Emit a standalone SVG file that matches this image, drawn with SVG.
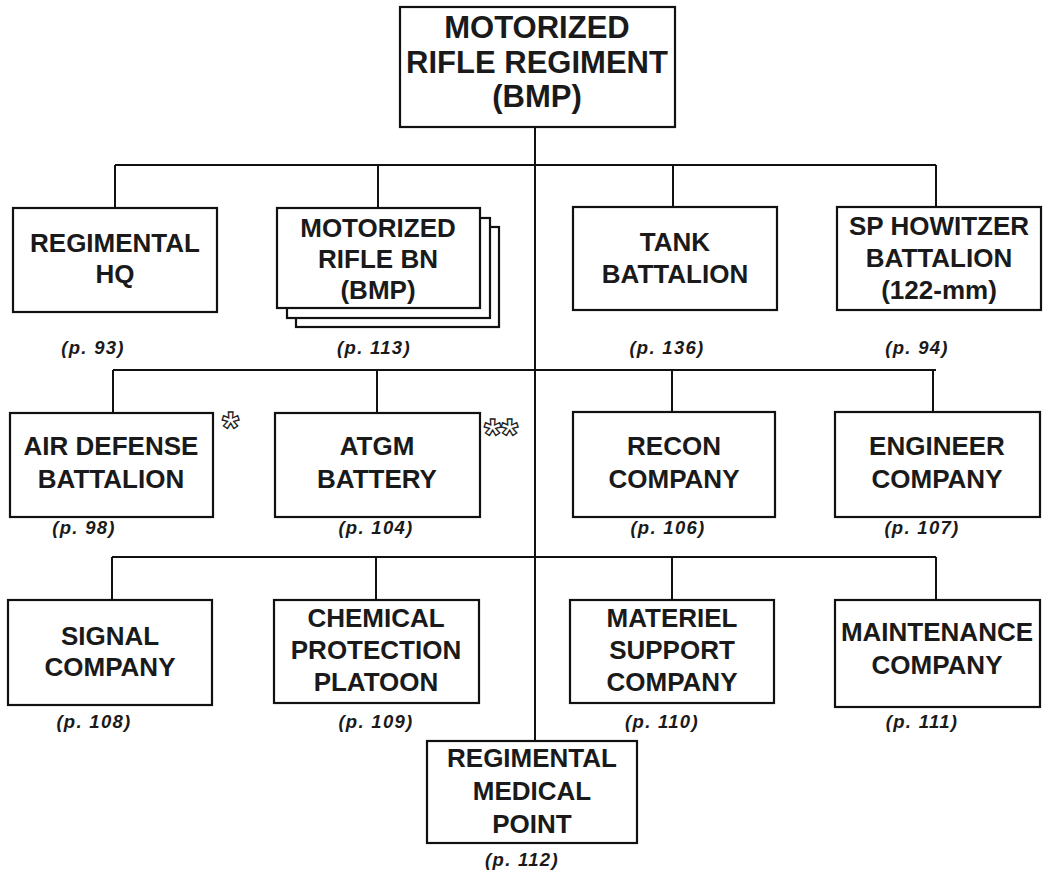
<svg xmlns="http://www.w3.org/2000/svg" width="1061" height="877" viewBox="0 0 1061 877">
<style>
.box{fill:#fff;stroke:#111;stroke-width:2.2}
.t{font-family:"Liberation Sans",Arial,sans-serif;font-weight:bold;font-size:26px;fill:#1a1a1a;text-anchor:middle}
.big{font-size:31px}
.p{font-family:"Liberation Sans",Arial,sans-serif;font-weight:bold;font-style:italic;font-size:18.5px;letter-spacing:1.3px;fill:#1a1a1a;text-anchor:middle}
.ast{font-family:"Liberation Sans",Arial,sans-serif;font-weight:bold;font-size:44px;fill:#fff;stroke:#222;stroke-width:1.3}
.c{fill:none;stroke:#111;stroke-width:2}
</style>
<rect width="1061" height="877" fill="#fff"/>
<g id="connectors">
<path class="c" d="M535 127V741"/>
<path class="c" d="M115 165H936M115 165V208M378 165V208M673 165V207M936 165V207"/>
<path class="c" d="M113 370H936M113 370V413M377 370V413M672 370V412M933 370V412"/>
<path class="c" d="M112 557H936M112 557V600M376 557V600M672 557V600M936 557V600"/>
</g>
<g id="regiment">
<rect class="box" x="400" y="7" width="275" height="120"/>
<text class="t big" x="537" y="38">MOTORIZED</text>
<text class="t big" x="537" y="73">RIFLE REGIMENT</text>
<text class="t big" x="537" y="107">(BMP)</text>
</g>
<g id="hq">
<rect class="box" x="13" y="208" width="204" height="104"/>
<text class="t" x="115" y="252">REGIMENTAL</text>
<text class="t" x="115" y="283">HQ</text>
<text class="p" x="93" y="354">(p. 93)</text>
</g>
<g id="mrbn">
<rect class="box" x="296" y="227" width="203" height="100"/>
<rect class="box" x="287" y="218" width="203" height="100"/>
<rect class="box" x="277" y="208" width="203" height="100"/>
<text class="t" x="378" y="237">MOTORIZED</text>
<text class="t" x="378" y="268">RIFLE BN</text>
<text class="t" x="378" y="299">(BMP)</text>
<text class="p" x="374" y="354">(p. 113)</text>
</g>
<g id="tank">
<rect class="box" x="573" y="207" width="204" height="103"/>
<text class="t" x="675" y="251">TANK</text>
<text class="t" x="675" y="283">BATTALION</text>
<text class="p" x="667" y="354">(p. 136)</text>
</g>
<g id="howitzer">
<rect class="box" x="837" y="207" width="204" height="103"/>
<text class="t" x="939" y="235">SP HOWITZER</text>
<text class="t" x="939" y="267">BATTALION</text>
<text class="t" x="939" y="299">(122-mm)</text>
<text class="p" x="917" y="354">(p. 94)</text>
</g>
<g id="airdefense">
<rect class="box" x="10" y="413" width="203" height="104"/>
<text class="t" x="111" y="455">AIR DEFENSE</text>
<text class="t" x="111" y="488">BATTALION</text>
<text class="p" x="84" y="534">(p. 98)</text>
<text class="ast" x="222" y="443">*</text>
</g>
<g id="atgm">
<rect class="box" x="275" y="413" width="205" height="104"/>
<text class="t" x="377" y="455">ATGM</text>
<text class="t" x="377" y="488">BATTERY</text>
<text class="p" x="376" y="534">(p. 104)</text>
<text class="ast" x="484" y="450">**</text>
</g>
<g id="recon">
<rect class="box" x="573" y="412" width="202" height="105"/>
<text class="t" x="674" y="455">RECON</text>
<text class="t" x="674" y="488">COMPANY</text>
<text class="p" x="668" y="534">(p. 106)</text>
</g>
<g id="engineer">
<rect class="box" x="835" y="412" width="205" height="105"/>
<text class="t" x="937" y="455">ENGINEER</text>
<text class="t" x="937" y="488">COMPANY</text>
<text class="p" x="922" y="534">(p. 107)</text>
</g>
<g id="signal">
<rect class="box" x="8" y="600" width="204" height="105"/>
<text class="t" x="110" y="645">SIGNAL</text>
<text class="t" x="110" y="676">COMPANY</text>
<text class="p" x="94" y="728">(p. 108)</text>
</g>
<g id="chemical">
<rect class="box" x="274" y="600" width="205" height="103"/>
<text class="t" x="376" y="627">CHEMICAL</text>
<text class="t" x="376" y="659">PROTECTION</text>
<text class="t" x="376" y="691">PLATOON</text>
<text class="p" x="376" y="728">(p. 109)</text>
</g>
<g id="materiel">
<rect class="box" x="570" y="600" width="204" height="103"/>
<text class="t" x="672" y="627">MATERIEL</text>
<text class="t" x="672" y="659">SUPPORT</text>
<text class="t" x="672" y="691">COMPANY</text>
<text class="p" x="662" y="728">(p. 110)</text>
</g>
<g id="maintenance">
<rect class="box" x="835" y="600" width="205" height="107"/>
<text class="t" x="937" y="641">MAINTENANCE</text>
<text class="t" x="937" y="674">COMPANY</text>
<text class="p" x="922" y="728">(p. 111)</text>
</g>
<g id="medical">
<rect class="box" x="427" y="741" width="210" height="102"/>
<text class="t" x="532" y="767">REGIMENTAL</text>
<text class="t" x="532" y="800">MEDICAL</text>
<text class="t" x="532" y="833">POINT</text>
<text class="p" x="522" y="866">(p. 112)</text>
</g>
</svg>
